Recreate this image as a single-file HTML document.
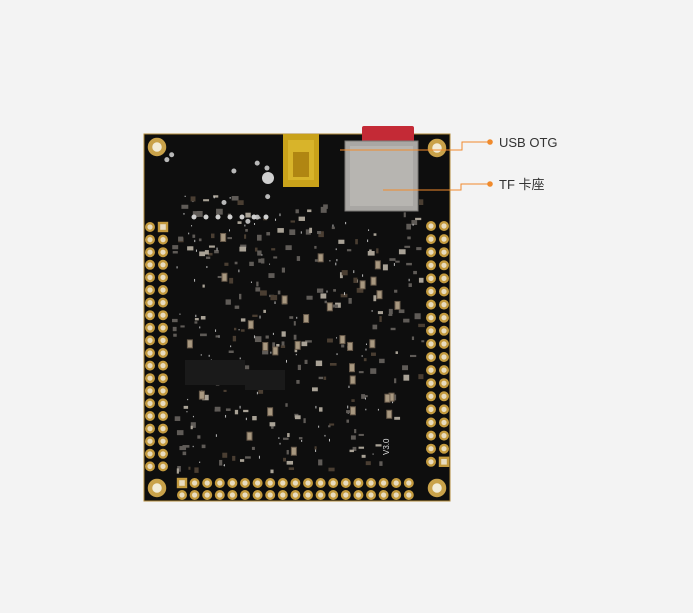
<!DOCTYPE html>
<html><head><meta charset="utf-8"><style>
html,body{margin:0;padding:0;background:#f3f3f3;width:693px;height:613px;overflow:hidden}
svg{display:block}
</style></head><body>
<svg id="s" width="693" height="613" viewBox="0 0 693 613" xmlns="http://www.w3.org/2000/svg">
<rect width="693" height="613" fill="#f3f3f3"/>
<rect x="144" y="134" width="306" height="367" fill="#0e0e0e" stroke="#b08a3a" stroke-width="1"/>
<g id="comp"></g>
<g id="pads"></g>
<g fill="#f2ecd8" stroke="#c9a24a" stroke-width="4.5">
<circle cx="157" cy="147" r="7"/><circle cx="437" cy="148" r="7"/>
<circle cx="157" cy="488" r="7"/><circle cx="437" cy="488" r="7"/>
</g>
<rect x="362" y="126" width="52" height="16" rx="2" fill="#c42a36"/>
<rect x="345" y="141" width="73" height="70" fill="#a9a7a4" stroke="#7a7875"/>
<rect x="350" y="146" width="63" height="60" fill="#b7b5b1"/>
<rect x="283" y="134" width="36" height="53" fill="#c9a21a"/>
<rect x="288" y="140" width="26" height="40" fill="#d8b42a"/>
<rect x="293" y="152" width="16" height="25" fill="#b08612"/>
<circle cx="268" cy="178" r="6" fill="#cfcfcf"/>
<text x="389" y="455" transform="rotate(-90 389 455)" font-family="Liberation Sans,sans-serif" font-size="8" fill="#ddd">V3.0</text>
<g stroke="#f08a2c" stroke-width="1" fill="none">
<polyline points="340,150 462,150 462,142 490,142"/>
<polyline points="383,190 461,190 461,184 490,184"/>
</g>
<circle cx="490" cy="142" r="2.8" fill="#f08a2c"/>
<circle cx="490" cy="184" r="2.8" fill="#f08a2c"/>
<text x="499" y="147" font-family="Liberation Sans,sans-serif" font-size="13" fill="#333">USB OTG</text>
<text x="499" y="189" font-family="Liberation Sans,'Noto Sans CJK SC',sans-serif" font-size="13" fill="#333">TF 卡座</text>
</svg>
<script>
var ns="http://www.w3.org/2000/svg",P=document.getElementById('pads'),C=document.getElementById('comp');
function pad(x,y,sq){var g;if(sq){g=document.createElementNS(ns,'rect');g.setAttribute('x',x-4);g.setAttribute('y',y-4);g.setAttribute('width',8);g.setAttribute('height',8);}else{g=document.createElementNS(ns,'circle');g.setAttribute('cx',x);g.setAttribute('cy',y);g.setAttribute('r',3.8);}
g.setAttribute('fill','#e8dcc0');g.setAttribute('stroke','#c39a3e');g.setAttribute('stroke-width','2.4');P.appendChild(g);}
for(var i=0;i<20;i++){pad(150,227+i*12.6,0);pad(163,227+i*12.6,i==0);}
for(var i=0;i<19;i++){pad(431,226+i*13.1,0);pad(444,226+i*13.1,i==18);}
for(var i=0;i<19;i++){pad(182+i*12.6,483,i==0);pad(182+i*12.6,495,0);}
var seed=7;function r(){seed=(seed*9301+49297)%233280;return seed/233280;}
function rect(x,y,w,h,f){var e=document.createElementNS(ns,'rect');e.setAttribute('x',x);e.setAttribute('y',y);e.setAttribute('width',w);e.setAttribute('height',h);e.setAttribute('fill',f);C.appendChild(e);}
for(var k=0;k<380;k++){var x=172+r()*250,y=195+r()*275;
if(x>395&&y>380)continue;
var w=2+r()*5,h=2+r()*4,t=r();
var f=t<0.4?'#5f5b57':t<0.55?'#a9a296':t<0.72?'#4a3e32':'#bdbdbd';
if(t>0.72){w=1;h=1+r()*2;}
rect(x,y,w,h,f);}
for(var k=0;k<30;k++){var x=175+r()*220,y=230+r()*220;rect(x,y,6,9,'#6a5c4c');rect(x+1,y+1,4,7,'#a89880');}
for(var k=0;k<20;k++){var x=160+r()*250,y=145+r()*80;if(x>280&&x<420)continue;var c=document.createElementNS(ns,'circle');c.setAttribute('cx',x);c.setAttribute('cy',y);c.setAttribute('r',2.5);c.setAttribute('fill','#b8b8b8');C.appendChild(c);}
for(var i=0;i<7;i++){var c=document.createElementNS(ns,'circle');c.setAttribute('cx',194+i*12);c.setAttribute('cy',217);c.setAttribute('r',2.5);c.setAttribute('fill','#cfcfcf');C.appendChild(c);}
rect(185,360,60,25,'#1a1a1a');rect(245,370,40,20,'#1a1a1a');
</script>
</body></html>
